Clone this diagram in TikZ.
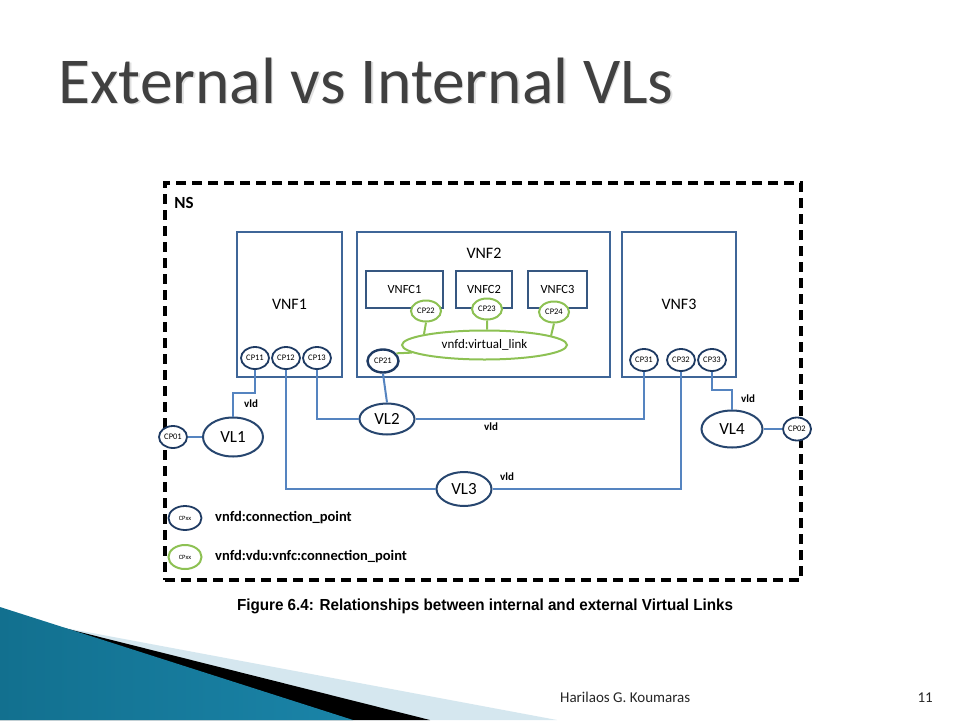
\documentclass[tikz,border=0pt]{standalone}
\usepackage{fontspec}
\usepackage{graphicx}
\setmainfont{Carlito}
\newfontfamily\capfont{Liberation Sans}
\usetikzlibrary{shapes.geometric}
\definecolor{boxblue}{HTML}{3F6698}
\definecolor{linkblue}{HTML}{5584C0}
\definecolor{cpnavy}{HTML}{1F3B63}
\definecolor{vlnavy}{HTML}{27466F}
\definecolor{cpgreen}{HTML}{8DC153}
\definecolor{titlegray}{HTML}{404040}
\definecolor{swdark}{HTML}{12708F}
\definecolor{swlight}{HTML}{45ACD0}
\definecolor{swright}{HTML}{1A84A8}
\definecolor{swpale}{HTML}{D5E7EF}
\tikzset{
  vnfbox/.style={draw=boxblue, line width=2.3pt, rectangle, inner sep=0pt, minimum height=145pt, font=\fontsize{16}{18}\selectfont},
  vnfcbox/.style={draw=boxblue!85!black, line width=2pt, fill=white, inner sep=0pt, minimum height=37pt, font=\fontsize{12.5}{14}\selectfont},
  cpnode/.style={ellipse, draw=cpnavy, line width=1.8pt, fill=white, inner sep=0pt, minimum width=28pt, minimum height=22pt, font=\fontsize{8.5}{9}\selectfont},
  gcp/.style={ellipse, draw=cpgreen, line width=2pt, fill=white, inner sep=0pt, minimum width=30pt, minimum height=21pt, font=\fontsize{8.5}{9}\selectfont},
  vlnode/.style={ellipse, draw=vlnavy, line width=2pt, fill=white, inner sep=0pt, font=\fontsize{17}{19}\selectfont},
  link/.style={draw=linkblue, line width=2pt},
  glink/.style={draw=cpgreen, line width=2pt},
  vldlabel/.style={font=\bfseries\fontsize{11}{12}\selectfont, inner sep=0pt},
  legtext/.style={anchor=west, inner sep=0pt, font=\bfseries\fontsize{14.5}{16}\selectfont},
}
\begin{document}
\begin{tikzpicture}[x=1pt,y=-1pt]
\useasboundingbox (0,0) rectangle (960,720);
\fill[white] (0,0) rectangle (960,720);
% bottom-left decoration
\fill[swpale] (60,627) -- (557,720) -- (0,720) -- cycle;
\fill[black] (60,627) -- (430,720) -- (0,720) -- cycle;
\shade[left color=swdark, middle color=swlight, right color=swright] (0,607) -- (353,720) -- (0,720) -- cycle;
% title
\node (titleshadow) [anchor=base west, inner sep=0pt, text=black!12, font=\fontsize{65.5}{70}\selectfont] at (59.5,104.5) {External vs Internal VLs};
\node (title) [anchor=base west, inner sep=0pt, text=titlegray, font=\fontsize{65.5}{70}\selectfont] at (58,103) {External vs Internal VLs};
% NS box
\node (ns) [draw=black, line width=3.2pt, dash pattern=on 10pt off 6pt, minimum width=636pt, minimum height=397pt, inner sep=0pt] at (483,381.5) {};
\node (nslabel) [font=\bfseries\fontsize{17}{18}\selectfont] at (184,203) {NS};
% VNF boxes
\node (vnf1) [vnfbox, minimum width=105pt] at (289.5,304.5) {VNF1};
\node (vnf2) [vnfbox, minimum width=253pt] at (483.5,304.5) {};
\node (vnf2label) [font=\fontsize{16}{18}\selectfont] at (484,253) {VNF2};
\node (vnf3) [vnfbox, minimum width=114pt] at (679,304.5) {VNF3};
% VNFCs
\node (vnfc1) [vnfcbox, minimum width=77pt] at (404.5,289) {VNFC1};
\node (vnfc2) [vnfcbox, minimum width=56pt] at (484,289) {VNFC2};
\node (vnfc3) [vnfcbox, minimum width=59pt] at (557.5,289) {VNFC3};
% internal VL
\node (vlink) [ellipse, draw=cpgreen, line width=2pt, minimum width=165pt, minimum height=29pt, inner sep=0pt, font=\fontsize{13}{14}\selectfont] at (484.5,345) {vnfd:virtual\_link};
\node (cp22) [gcp] at (426,311) {CP22};
\node (cp23) [gcp] at (487,309) {CP23};
\node (cp24) [gcp] at (554,312) {CP24};
\node (cp21) [cpnode, minimum width=31pt, minimum height=23pt, line width=2.4pt] at (383,361) {CP21};
\draw[glink] (cp22.south) -- (vlink.170);
\draw[glink] (cp23.south) -- (vlink.80);
\draw[glink] (cp24.south) -- (vlink.8);
\draw[glink] (cp21.30) -- (vlink.186);
% VNF connection points
\node (cp11) [cpnode] at (255,358) {CP11};
\node (cp12) [cpnode] at (286,358) {CP12};
\node (cp13) [cpnode] at (317,358) {CP13};
\node (cp31) [cpnode] at (644,360) {CP31};
\node (cp32) [cpnode] at (681,360) {CP32};
\node (cp33) [cpnode] at (712,360) {CP33};
% external VLs
\node (vl1) [vlnode, minimum width=60pt, minimum height=39pt] at (233,437) {VL1};
\node (vl2) [vlnode, minimum width=55pt, minimum height=31pt] at (387,419) {VL2};
\node (vl3) [vlnode, minimum width=55pt, minimum height=34pt] at (464,489) {VL3};
\node (vl4) [vlnode, minimum width=61pt, minimum height=37pt] at (732,429) {VL4};
\node (cp01) [cpnode] at (173,437) {CP01};
\node (cp02) [cpnode, minimum height=23pt] at (797,429) {CP02};
% connectors
\coordinate (k1) at (233,393);
\coordinate (k4) at (732,390);
\draw[link] (cp11.south) |- (k1) -- (vl1.north);
\draw[link] (cp01.east) -- (vl1.west);
\draw[link] (cp13.south) |- (vl2.west);
\draw[link] (vl2.east) -| (cp31.south);
\draw[link] (cp21.south) -- (vl2.north);
\draw[link] (cp12.south) |- (vl3.west);
\draw[link] (vl3.east) -| (cp32.south);
\draw[link] (cp33.south) |- (k4) -- (vl4.north);
\draw[link] (vl4.east) -- (cp02.west);
% vld labels
\node (vld1) [vldlabel] at (251,404) {vld};
\node (vld2) [vldlabel] at (491,427) {vld};
\node (vld3) [vldlabel] at (507,477) {vld};
\node (vld4) [vldlabel] at (748,399) {vld};
% legend
\node (leg1) [cpnode, minimum width=33pt, minimum height=24pt, font=\fontsize{6.5}{7}\selectfont] at (185,518) {CPxx};
\node (leg1t) [legtext] at (215,518) {vnfd:connection\_point};
\node (leg2) [gcp, minimum width=33pt, minimum height=24pt, font=\fontsize{6.5}{7}\selectfont] at (185,557) {CPxx};
\node (leg2t) [legtext] at (215,557) {vnfd:vdu:vnfc:connection\_point};
% caption
\node (caption) [inner sep=0pt, font=\capfont\bfseries\fontsize{16}{18}\selectfont] at (485,606) {\resizebox{496pt}{\height}{Figure 6.4: Relationships between internal and external Virtual Links}};
% footer
\node (author) [anchor=base west, inner sep=0pt, text=black!85, font=\fontsize{15}{17}\selectfont] at (560,702) {Harilaos G. Koumaras};
\node (pagenum) [anchor=base east, inner sep=0pt, text=black!85, font=\fontsize{15}{17}\selectfont] at (933,702) {11};
\end{tikzpicture}
\end{document}
